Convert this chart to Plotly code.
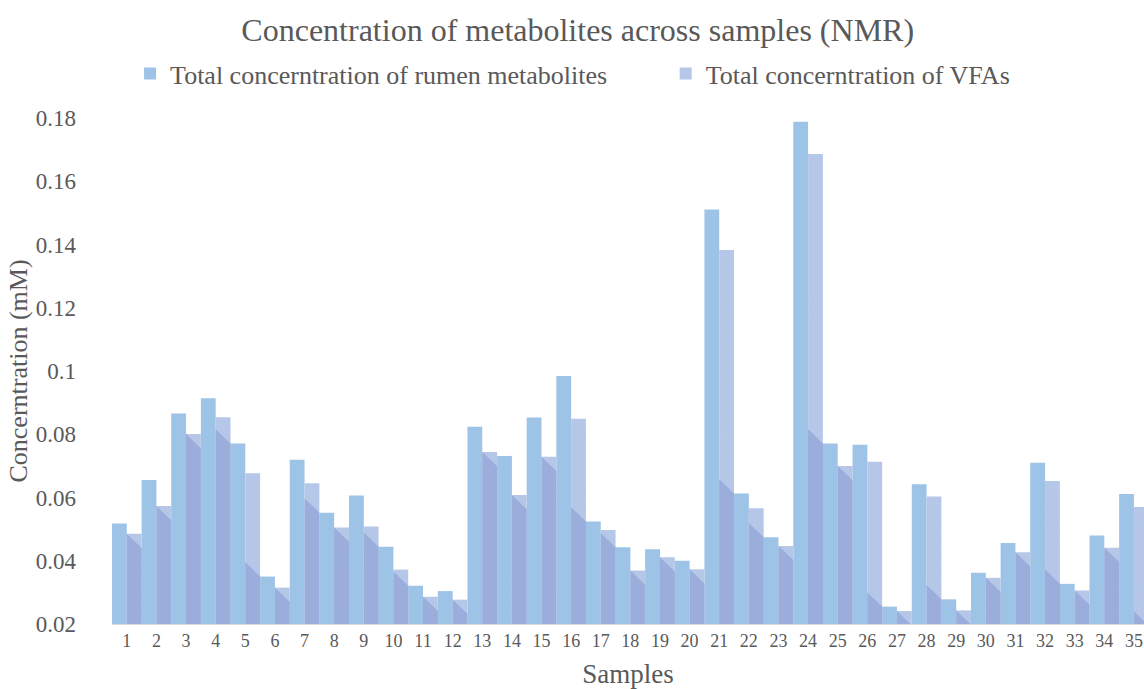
import plotly.graph_objects as go

samples = list(range(1, 36))
rumen = [0.0518, 0.0655, 0.0866, 0.0914, 0.0771, 0.0350, 0.0719, 0.0552, 0.0606, 0.0444,
         0.0321, 0.0304, 0.0824, 0.0731, 0.0853, 0.0984, 0.0524, 0.0443, 0.0436, 0.0400,
         0.1511, 0.0613, 0.0474, 0.1788, 0.0771, 0.0767, 0.0255, 0.0642, 0.0278, 0.0362,
         0.0456, 0.0710, 0.0327, 0.0480, 0.0611]
vfa = [0.0485, 0.0573, 0.0801, 0.0854, 0.0677, 0.0315, 0.0645, 0.0505, 0.0508, 0.0372,
       0.0286, 0.0277, 0.0744, 0.0608, 0.0729, 0.0849, 0.0497, 0.0369, 0.0411, 0.0373,
       0.1383, 0.0566, 0.0447, 0.1686, 0.0700, 0.0713, 0.0241, 0.0603, 0.0243, 0.0346,
       0.0427, 0.0652, 0.0306, 0.0441, 0.0570]
shadow_last = 0.0195  # height of the (off-chart) bar casting a shadow on the last VFA bar

AXIS_MIN, AXIS_MAX = 0.02, 0.18
BEVEL = 0.0045
FONT = "Liberation Serif, Times New Roman, serif"
GREY = "#595959"
C_RUMEN = "#9DC3E6"
C_VFA = "#B6C7E8"
C_SHADOW = "#9AADDB"

fig = go.Figure()
fig.add_trace(go.Bar(
    x=[s - 0.25 for s in samples], y=[r - AXIS_MIN for r in rumen], base=AXIS_MIN, width=0.5,
    name="Total concerntration of rumen metabolites", legend="legend",
    marker=dict(color=C_RUMEN, line=dict(width=0)),
))
fig.add_trace(go.Bar(
    x=[s + 0.25 for s in samples], y=[v - AXIS_MIN for v in vfa], base=AXIS_MIN, width=0.5,
    name="Total concerntration of VFAs", legend="legend2",
    marker=dict(color=C_VFA, line=dict(width=0),
                pattern=dict(shape="\\", size=3, solidity=0.15, fgcolor="#A9BCE3")),
))

# shadow of the neighbouring bar falling on each VFA bar
nxt = rumen[1:] + [shadow_last]
sx, sy = [], []
for s, v, rn in zip(samples, vfa, nxt):
    top = min(v, rn + BEVEL)
    sx += [s, s, s + 0.5, s + 0.5, s, None]
    sy += [AXIS_MIN, top, top - BEVEL, AXIS_MIN, AXIS_MIN, None]
fig.add_trace(go.Scatter(
    x=sx, y=sy, mode="lines", fill="toself", fillcolor=C_SHADOW,
    line=dict(width=0), showlegend=False, hoverinfo="skip",
))

legend_style = dict(orientation="h", xanchor="left", y=0.893, yref="container",
                    yanchor="middle", font=dict(family=FONT, size=26, color=GREY),
                    itemwidth=30, bgcolor="rgba(0,0,0,0)")

fig.update_layout(
    width=1144, height=689,
    margin=dict(l=112, r=0, t=118, b=65),
    paper_bgcolor="white", plot_bgcolor="white",
    barmode="overlay",
    title=dict(text="Concentration of metabolites across samples (NMR)",
               x=0.505, xanchor="center", y=0.957, yanchor="middle",
               font=dict(family=FONT, size=32, color=GREY)),
    legend=dict(x=0.0175, **legend_style),
    legend2=dict(x=0.5365, **legend_style),
    font=dict(family=FONT, color=GREY),
    showlegend=True,
)
fig.update_xaxes(
    range=[0.5, 35.34], tickmode="array", tickvals=samples, ticktext=[str(s) for s in samples],
    tickfont=dict(family=FONT, size=18, color=GREY), showgrid=False, zeroline=False,
    showline=True, linecolor="#D9D9D9", linewidth=1, ticks="",
    title=dict(text="Samples", font=dict(family=FONT, size=27, color=GREY), standoff=21),
)
fig.update_yaxes(
    range=[AXIS_MIN, AXIS_MAX], dtick=0.02, tick0=0.02, showgrid=False, zeroline=False,
    showline=False, tickfont=dict(family=FONT, size=23, color=GREY), ticklabelstandoff=35,
    title=dict(text="Concerntration (mM)", font=dict(family=FONT, size=26, color=GREY), standoff=0),
)
fig.write_html("out.html")
